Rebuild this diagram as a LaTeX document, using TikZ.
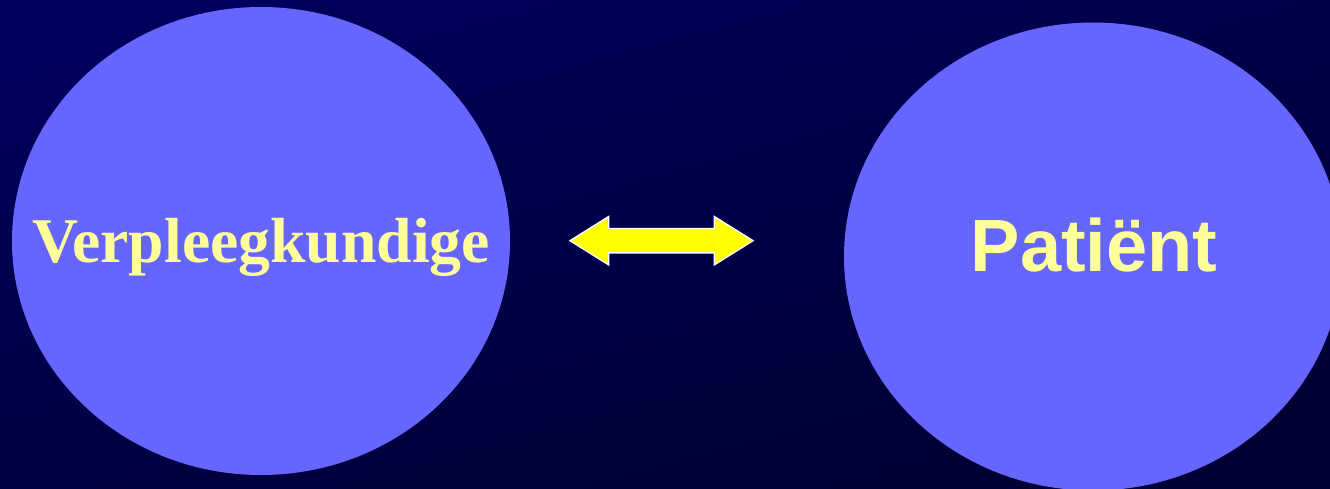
\documentclass[tikz,border=0pt]{standalone}
\usepackage{fontspec}
\setmainfont{Liberation Serif}
\setsansfont{Liberation Sans}
\usepackage{tikz}
\usetikzlibrary{shapes.geometric,shapes.arrows,calc}
\definecolor{bgtop}{RGB}{0,0,92}
\definecolor{bgbot}{RGB}{0,0,50}
\definecolor{blobblue}{RGB}{102,102,255}
\definecolor{paleyellow}{RGB}{255,255,153}
\definecolor{arrowyellow}{RGB}{255,255,0}
\tikzset{
  blob/.style={
    ellipse,
    fill=blobblue,
    inner sep=0pt,
    minimum width=498pt,
    minimum height=468pt
  },
  word/.style={
    text=paleyellow,
    inner sep=0pt,
    anchor=base
  },
  link/.style={
    double arrow,
    fill=arrowyellow,
    draw=white,
    line width=1.4pt,
    inner sep=11.5pt,
    double arrow head extend=12pt,
    double arrow tip angle=64,
    minimum height=183pt
  }
}
\begin{document}
\begin{tikzpicture}[x=1pt,y=-1pt]
        \shade[top color=bgtop, bottom color=bgbot, shading angle=15] (0,0) rectangle (1330,489);
        \useasboundingbox (0,0) rectangle (1330,489);
        \node[blob] (v) at (261,241) {};
        \node[blob] (p) at (1093,256.5) {};
        \node[word, font=\rmfamily\bfseries\fontsize{63.7}{64}\selectfont] (vt) at ([yshift=-21pt]v.center) {Verpleegkundige};
        \node[word, font=\sffamily\bfseries\fontsize{74}{74}\selectfont] (pt) at ([xshift=1pt,yshift=-14.5pt]p.center) {Patiënt};
        \node[link] (a) at (661.5,240.7) {};
      \end{tikzpicture}
\end{document}
